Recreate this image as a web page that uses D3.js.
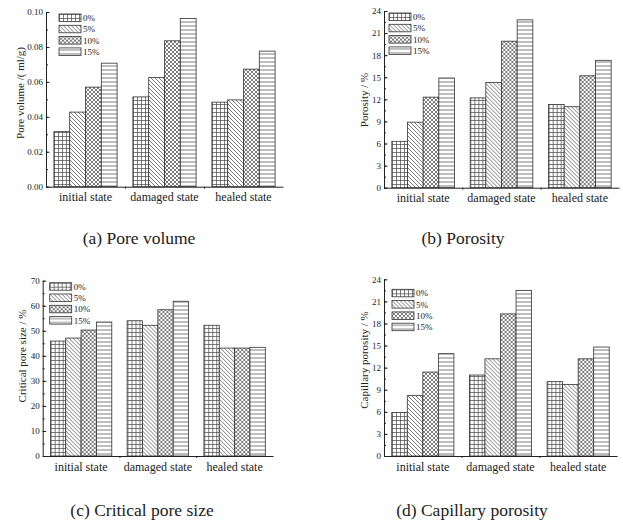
<!DOCTYPE html>
<html>
<head>
<meta charset="utf-8">
<script src="https://cdn.jsdelivr.net/npm/d3@7"></script>
<style>
	body { margin: 0; background: #fff; }
	text { font-family: "Liberation Serif", "Times New Roman", serif; fill: #222; }
</style>
</head>
<body>
<svg class="chart"></svg>
<script>

// categories
var states = ["initial state", "damaged state", "healed state"];
var dosages = ["0%", "5%", "10%", "15%"];

// series values, one row per state, one column per dosage
var poreVolume = [
	[0.0315, 0.0427, 0.0570, 0.0707],
	[0.0514, 0.0625, 0.0835, 0.0963],
	[0.0484, 0.0497, 0.0673, 0.0776]
];
var porosity = [
	[6.3, 8.9, 12.3, 14.9],
	[12.2, 14.3, 19.9, 22.8],
	[11.3, 11.0, 15.2, 17.3]
];
var criticalPoreSize = [
	[45.9, 47.1, 50.3, 53.5],
	[54.0, 52.2, 58.4, 61.8],
	[52.2, 43.1, 43.1, 43.4]
];
var capillaryPorosity = [
	[5.9, 8.2, 11.4, 13.9],
	[11.0, 13.2, 19.3, 22.5],
	[10.1, 9.7, 13.2, 14.8]
];

// tick labels
var poreVolumeTicks = [0.00, 0.02, 0.04, 0.06, 0.08, 0.10];
var porosityTicks = [0, 3, 6, 9, 12, 15, 18, 21, 24];
var criticalTicks = [0, 10, 20, 30, 40, 50, 60, 70];

// panel layout
var panels = [
	{values: poreVolume, ticks: poreVolumeTicks, fmt: ".2f", minor: 0.01,
	 label: "Pore volume /( ml/g)", caption: "(a) Pore volume",
	 x0: 46, x1: 283, y0: 186.7, y1: 12, legend: [13, 2], labelPos: [20, 93], capPos: [139, 244]},
	{values: porosity, ticks: porosityTicks, fmt: "d", minor: 1.5,
	 label: "Porosity / %", caption: "(b) Porosity",
	 x0: 384, x1: 619, y0: 187.7, y1: 11, legend: [5, 2], labelPos: [364, 100], capPos: [463, 244]},
	{values: criticalPoreSize, ticks: criticalTicks, fmt: "d", minor: 5,
	 label: "Critical pore size / %", caption: "(c) Critical pore size",
	 x0: 42.7, x1: 273, y0: 456, y1: 280.7, legend: [7, 2], labelPos: [22, 356], capPos: [142, 516]},
	{values: capillaryPorosity, ticks: porosityTicks, fmt: "d", minor: 1.5,
	 label: "Capillary porosity / %", caption: "(d) Capillary porosity",
	 x0: 384, x1: 617, y0: 456, y1: 279.3, legend: [8, 10], labelPos: [364, 360], capPos: [472, 516]}
];

var svg = d3.select("svg.chart")
	.attr("width", 623)
	.attr("height", 524);

svg.append("rect").attr("width", 623).attr("height", 524).attr("fill", "#fff");

// hatch patterns for the four dosages
var defs = svg.append("defs");
var hatches = [
	"M0,0.5H4M0.5,0V4",
	"M0,0L4,4M-1,3L1,5M3,-1L5,1",
	"M0,0L4,4M-1,3L1,5M3,-1L5,1M0,4L4,0M-1,1L1,-1M3,5L5,3",
	"M0,2H4"
];
hatches.forEach(function(h, i) {
	var p = defs.append("pattern")
		.attr("id", "hatch" + i)
		.attr("patternUnits", "userSpaceOnUse")
		.attr("width", 4)
		.attr("height", 4);
	p.append("rect").attr("width", 4).attr("height", 4).attr("fill", "#fff");
	p.append("path").attr("d", h)
		.attr("stroke", "#505050")
		.attr("stroke-width", 0.75)
		.attr("fill", "none");
});

panels.forEach(function(cfg) {

	var g = svg.append("g");

	// scales
	var x = d3.scaleBand()
		.domain(states)
		.range([cfg.x0, cfg.x1]);
	var xInner = d3.scaleBand()
		.domain(dosages)
		.range([x.bandwidth() * 0.1, x.bandwidth() * 0.9]);
	var y = d3.scaleLinear()
		.domain([0, cfg.ticks[cfg.ticks.length - 1]])
		.range([cfg.y0, cfg.y1]);

	// bars
	g.selectAll("g.state")
		.data(cfg.values)
		.enter()
		.append("g")
		.attr("transform", function(d, i) { return "translate(" + x(states[i]) + ",0)"; })
		.selectAll("rect")
		.data(function(d) { return d; })
		.enter()
		.append("rect")
		.attr("x", function(d, j) { return xInner(dosages[j]); })
		.attr("y", function(d) { return y(d); })
		.attr("width", xInner.bandwidth())
		.attr("height", function(d) { return y(0) - y(d); })
		.attr("fill", function(d, j) { return "url(#hatch" + j + ")"; })
		.attr("stroke", "#333")
		.attr("stroke-width", 0.8);

	// minor y ticks
	var minorTicks = d3.range(0, y.domain()[1] + 1e-9, cfg.minor);
	g.append("g")
		.attr("transform", "translate(" + cfg.x0 + ",0)")
		.call(d3.axisLeft(y).tickValues(minorTicks).tickSize(-2).tickFormat(""))
		.call(function(a) { a.select(".domain").remove(); });

	// y axis
	var yAxis = g.append("g")
		.attr("transform", "translate(" + cfg.x0 + ",0)")
		.call(d3.axisLeft(y)
			.tickValues(cfg.ticks)
			.tickFormat(d3.format(cfg.fmt))
			.tickSize(-3.5)
			.tickSizeOuter(0)
			.tickPadding(3));
	yAxis.selectAll("text").style("font-size", "9px");

	// x axis with small ticks between the groups
	var xb = d3.scaleLinear().domain([0, 3]).range([cfg.x0, cfg.x1]);
	g.append("g")
		.attr("transform", "translate(0," + cfg.y0 + ")")
		.call(d3.axisBottom(xb).tickValues([1, 2]).tickFormat("").tickSize(2).tickSizeOuter(0));
	g.append("g")
		.attr("transform", "translate(0," + cfg.y0 + ")")
		.call(d3.axisBottom(x).tickSize(0).tickPadding(6))
		.call(function(a) { a.select(".domain").remove(); })
		.selectAll("text")
		.style("font-size", "12px");

	g.selectAll(".domain, .tick line").attr("stroke", "#222");

	// y axis title
	g.append("text")
		.attr("transform", "translate(" + cfg.labelPos[0] + "," + cfg.labelPos[1] + ") rotate(-90)")
		.attr("text-anchor", "middle")
		.attr("dy", "0.35em")
		.style("font-size", "11px")
		.text(cfg.label);

	// legend
	var legend = g.append("g")
		.attr("transform", "translate(" + (cfg.x0 + cfg.legend[0]) + "," + (cfg.y1 + cfg.legend[1]) + ")");
	var item = legend.selectAll("g")
		.data(dosages)
		.enter()
		.append("g")
		.attr("transform", function(d, i) { return "translate(0," + (i * 11.3) + ")"; });
	item.append("rect")
		.attr("width", 22)
		.attr("height", 7.5)
		.attr("fill", function(d, i) { return "url(#hatch" + i + ")"; })
		.attr("stroke", "#333")
		.attr("stroke-width", 0.8);
	item.append("text")
		.attr("x", 24)
		.attr("y", 4)
		.attr("dy", "0.35em")
		.style("font-size", "9px")
		.text(function(d) { return d; });

	// caption
	g.append("text")
		.attr("x", cfg.capPos[0])
		.attr("y", cfg.capPos[1])
		.attr("text-anchor", "middle")
		.style("font-size", "17.5px")
		.text(cfg.caption);
});

</script>
</body>
</html>
